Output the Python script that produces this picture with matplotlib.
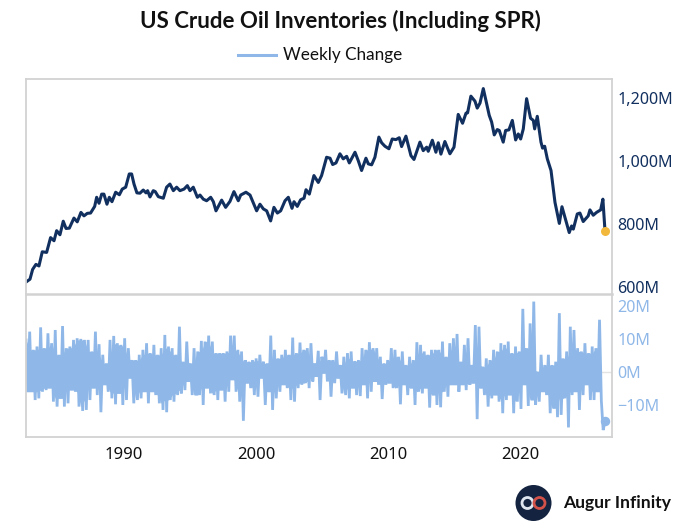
import numpy as np
import matplotlib
matplotlib.use('Agg')
import matplotlib.pyplot as plt
from matplotlib.font_manager import FontProperties
from matplotlib.lines import Line2D
from matplotlib.patches import Circle

plt.rcParams['font.family'] = ['Noto Sans', 'DejaVu Sans']

# Inventories (million barrels)
level_years = [
    1982.58, 1982.88, 1983.08, 1983.33, 1983.56, 1983.81, 1984.14, 1984.44, 1984.70, 1984.90,
    1985.15, 1985.40, 1985.61, 1985.86, 1986.21, 1986.46, 1986.74, 1986.97, 1987.22, 1987.47,
    1987.78, 1987.93, 1988.11, 1988.31, 1988.48, 1988.71, 1988.89, 1989.09, 1989.37, 1989.65,
    1989.87, 1990.13, 1990.40, 1990.58, 1990.76, 1990.98, 1991.21, 1991.46, 1991.67, 1991.79,
    1991.97, 1992.22, 1992.37, 1992.60, 1992.98, 1993.23, 1993.48, 1993.74, 1993.99, 1994.24,
    1994.55, 1994.80, 1995.00, 1995.25, 1995.56, 1995.76, 1996.01, 1996.26, 1996.57, 1996.77,
    1996.97, 1997.40, 1997.70, 1998.03, 1998.33, 1998.66, 1998.84, 1999.24, 1999.55, 1999.80,
    2000.05, 2000.30, 2000.56, 2000.81, 2001.11, 2001.36, 2001.62, 2001.87, 2002.20, 2002.45,
    2002.73, 2002.88, 2003.13, 2003.38, 2003.64, 2003.79, 2004.04, 2004.39, 2004.72, 2004.97,
    2005.35, 2005.61, 2005.81, 2006.06, 2006.36,
    2006.61, 2006.87, 2007.07, 2007.50, 2007.75, 2008.00, 2008.33, 2008.51, 2008.76, 2009.01,
    2009.31, 2009.52, 2009.77, 2010.07, 2010.32, 2010.60, 2010.85, 2011.03, 2011.36, 2011.74,
    2011.97, 2012.42, 2012.67, 2012.93, 2013.05, 2013.36, 2013.63, 2013.81, 2014.01, 2014.31,
    2014.69, 2015.00, 2015.32, 2015.65, 2015.91, 2016.03, 2016.28, 2016.59, 2016.76, 2016.97,
    2017.22, 2017.47, 2017.67, 2017.85, 2018.05, 2018.28, 2018.43, 2018.73, 2018.91, 2019.16,
    2019.42, 2019.67, 2019.87, 2020.05, 2020.25, 2020.50, 2020.80, 2021.01, 2021.11, 2021.31,
    2021.59, 2021.71, 2021.87, 2022.07, 2022.35, 2022.65, 2022.98, 2023.18, 2023.41, 2023.73,
    2023.91, 2024.04, 2024.34, 2024.54, 2024.79, 2025.17, 2025.30, 2025.55, 2025.80, 2026.11,
    2026.28, 2026.44,
]
level_values = [
    616, 625, 656, 672, 667, 712, 710, 757, 747, 779,
    766, 809, 786, 787, 819, 807, 837, 826, 834, 835,
    856, 885, 866, 895, 895, 863, 885, 871, 901, 893,
    911, 917, 959, 959, 927, 899, 898, 908, 899, 906,
    886, 906, 903, 887, 882, 917, 927, 906, 917, 906,
    911, 922, 906, 917, 885, 892, 879, 874, 885, 871,
    842, 876, 853, 872, 903, 874, 892, 901, 892, 867,
    842, 863, 848, 842, 810, 853, 835, 842, 874, 885,
    850, 871, 856, 877, 882, 909, 895, 954, 932, 954,
    1012, 1009, 989, 994, 1023,
    1007, 1015, 994, 1028, 1001, 970, 1009, 991, 988, 1012,
    1076, 1058, 1047, 1039, 1070, 1068, 1074, 1046, 1079, 1017,
    1005, 1060, 1033, 1044, 1031, 1066, 1028, 1058, 1022, 1062,
    1023, 1044, 1148, 1120, 1152, 1153, 1206, 1190, 1168, 1184,
    1230, 1182, 1145, 1124, 1083, 1100, 1097, 1060, 1097, 1099,
    1129, 1067, 1086, 1070, 1102, 1198, 1136, 1129, 1102, 1142,
    1060, 1041, 1047, 1007, 970, 869, 802, 855, 821, 773,
    794, 784, 832, 835, 808, 826, 845, 828, 837, 845,
    879, 778,
]

# Weekly change (million barrels): peaks and troughs along the time axis
change_highs = [
    9.7, 12.2, 6.7, 7.7, 13.5, 7.2, 11.7, 8.7, 12.7, 5.2, 13.9, 7.2, 7.7, 9.7, 10.2, 10.0, 9.7,
    9.7, 6.2, 12.2, 8.4, 5.2, 2.6, 9.7, 10.9, 8.7, 8.2, 10.2, 7.2, 3.6, 3.6, 5.2, 6.7, 8.7,
    5.7, 8.2, 5.2, 7.2, 11.2, 7.7, 7.2, 5.2, 13.7, 3.1, 9.2, 2.6, 7.2, 6.2, 9.4, 9.2, 11.0,
    9.2, 5.7, 5.7, 5.7, 6.2, 11.0, 11.0, 6.7, 6.2, 3.6, 3.1, 3.6, 4.1, 5.2, 3.1, 2.6, 11.0,
    6.7, 4.1, 5.2, 6.7, 5.2, 10.4, 5.7, 8.9, 6.7, 7.2, 8.7, 2.6, 6.4, 4.6, 6.7, 3.6, 3.6, 6.2,
    2.1, 4.6, 5.7, 6.2, 3.3, 3.6, 7.2, 6.7, 9.0, 7.2, 7.2, 4.6, 2.6, 3.6, 7.2, 6.7, 4.6, 6.2,
    2.1, 4.6, 3.6, 9.0, 8.2, 6.2, 5.2, 6.7, 6.7, 6.7, 9.2, 4.6, 8.7, 10.2, 11.5, 3.1, 8.2,
    10.2, 2.1, 14.2, 13.7, 1.6, 4.1, 3.6, 6.7, 6.2, 8.7, 8.2, 9.2, 5.7, 7.7, 6.2, 19.1, 7.2,
    14.7, 21.3, 0.1, 5.2, 2.1, 5.2, 2.1, 3.1, 17.8, 4.1, 6.2, 13.7, 12.7, 7.2, 6.2, 8.7, 5.7,
    7.7, 7.2, 15.8,
]
change_lows = [
    -6.0, -6.0, -8.5, -8.0, -6.0, -5.5, -4.9, -9.0, -10.5, -8.0, -10.5, -9.5, -5.5, -6.0, -10.5,
    -11.8, -11.5, -8.5, -4.9, -7.0, -12.2, -3.9, -6.0, -8.0, -9.8, -6.5, -10.0, -8.5, -1.9,
    -9.5, -8.5, -8.0, -6.0, -9.5, -6.0, -7.0, -9.5, -11.5, -12.2, -8.5, -9.0, -7.0, -6.5, -5.5,
    -2.9, -7.0, -7.0, -7.0, -10.0, -4.9, -6.5, -7.0, -8.5, -5.5, -9.0, -6.0, -2.4, -6.0, -9.0,
    -14.8, -3.4, -4.9, -7.0, -7.5, -1.9, -10.0, -6.0, -11.5, -8.0, -6.0, -3.9, -4.9, -8.5,
    -9.0, -4.9, -3.9, -3.4, -4.9, -2.9, -1.4, -8.5, -0.4, -2.9, -7.5, -3.4, -1.9,
    -6.5, -7.0, -8.0, -4.9, -7.0, -7.3, -3.9, -8.0, -6.0, -2.9, -3.9, -8.2, -3.9, -3.4, -4.9,
    -4.9, -9.8, -3.9, -7.0, -4.9, -10.0, -6.0, -6.5, -4.9, -10.8, -7.0, -10.0, -10.7, -6.0,
    -7.5, -3.9, -3.9, -6.0, -3.9, -5.5, -3.9, -3.4, -14.3, -4.9, -7.0, -10.5, -8.0, -7.0,
    -9.0, -12.5, -8.5, -7.0, -12.5, -9.0, -11.2, -3.9, -10.3, -8.5, -10.0, -9.0, -6.0, -7.0,
    -12.5, -11.0, -13.7, -13.0, -8.0, -16.8, -7.0, -6.0, -11.5, -7.0, -3.9, -8.5, -8.5, -6.0,
    -8.8,
]
change_tail = [-17.6, -15.0]

level_ticks = [600, 800, 1000, 1200]
level_labels = ['600M', '800M', '1,000M', '1,200M']
change_ticks = [-10, 0, 10, 20]
change_labels = ['\u221210M', '0M', '10M', '20M']
year_ticks = [1990, 2000, 2010, 2020]

DARK = '#12305f'
LIGHT = '#8fb8e8'
GOLD = '#f2b83c'
BORDER = '#d2d2d2'
W, H = 680, 531


def axbox(left, top, right, bottom):
    # pixel box -> figure fractions
    return [left / W, 1 - bottom / H, (right - left) / W, (bottom - top) / H]


def lato(size, weight='normal'):
    return FontProperties(family='Lato', size=size, weight=weight)


fig = plt.figure(figsize=(W / 100, H / 100), dpi=100)
axT = fig.add_axes(axbox(25.5, 78.5, 612, 294))
axB = fig.add_axes(axbox(25.5, 294, 612, 437), sharex=axT)
axT.set_zorder(2)
axT.patch.set_alpha(0)

# weaving the peaks and troughs gives the dense weekly band
change_values = []
for hi, lo in zip(change_highs, change_lows):
    change_values += [hi, lo]
change_values += change_tail
change_years = np.linspace(level_years[0], level_years[-1], len(change_values))

# the band is solid only up to the lowest of three neighbouring peaks / troughs
highs = np.array(change_highs)
lows = np.array(change_lows)
band_years = change_years[:len(highs) * 2][::2]
band_hi = np.minimum.reduce([np.roll(highs, 1), highs, np.roll(highs, -1)])
band_lo = np.maximum.reduce([np.roll(lows, 1), lows, np.roll(lows, -1)])

axT.plot(level_years, level_values, color=DARK, lw=2.2, solid_joinstyle='round')
axT.plot(level_years[-1], level_values[-1], 'o', color=GOLD, ms=6.5, mew=0, zorder=5)
axB.axhline(0, color='#e3e3e3', lw=1, zorder=0)
axB.fill_between(band_years, band_lo, band_hi, color=LIGHT, lw=0)
axB.plot(change_years, change_values, color=LIGHT, lw=2.0, solid_joinstyle='miter')
axB.plot(change_years[-1], change_values[-1], 'o', color=LIGHT, ms=6.8, mew=0, zorder=5)

axT.set_xlim(1982.54, 2026.97)
axT.set_ylim(578, 1262)
axB.set_ylim(-19.7, 23.6)

axT.yaxis.tick_right()
axT.set_yticks(level_ticks, level_labels)
axT.tick_params(axis='y', length=0, pad=4, labelsize=11.6, labelcolor=DARK)
axT.tick_params(axis='x', length=0, labelbottom=False)

axB.yaxis.tick_right()
axB.set_yticks(change_ticks, change_labels)
axB.tick_params(axis='y', length=0, pad=4, labelsize=11.6, labelcolor=LIGHT)
axB.set_xticks(year_ticks)
axB.tick_params(axis='x', length=0, pad=7, labelsize=12, labelcolor='#111111')

for ax in (axT, axB):
    for s in ax.spines.values():
        s.set_color(BORDER)
        s.set_linewidth(1.3)
axB.spines['top'].set_visible(False)
axT.spines['bottom'].set_linewidth(1.8)

fig.text(340 / W, 1 - 21 / H, 'US Crude Oil Inventories (Including SPR)', ha='center', va='center',
         fontproperties=lato(16, 'bold'), color='#111111')

# legend
fig.add_artist(Line2D([238 / W, 276 / W], [1 - 55 / H] * 2, color=LIGHT, lw=2.2))
fig.text(283 / W, 1 - 55 / H, 'Weekly Change', ha='left', va='center',
         fontproperties=lato(12.3), color='#111111')

# logo
logo = fig.add_axes([0, 0, 1, 1], facecolor='none')
logo.set_xlim(0, W)
logo.set_ylim(H, 0)
logo.axis('off')
logo.add_patch(Circle((533.5, 503), 18, color='#14233f', lw=0))
logo.add_patch(Circle((527.5, 503), 5.5, fill=False, ec='#dfe6ef', lw=2))
logo.add_patch(Circle((539.5, 503), 5.5, fill=False, ec='#d2524a', lw=2))
fig.text(563 / W, 1 - 503 / H, 'Augur Infinity', ha='left', va='center',
         fontproperties=lato(12.6, 'bold'), color='#111111')

fig.savefig('out.png', dpi=100)
